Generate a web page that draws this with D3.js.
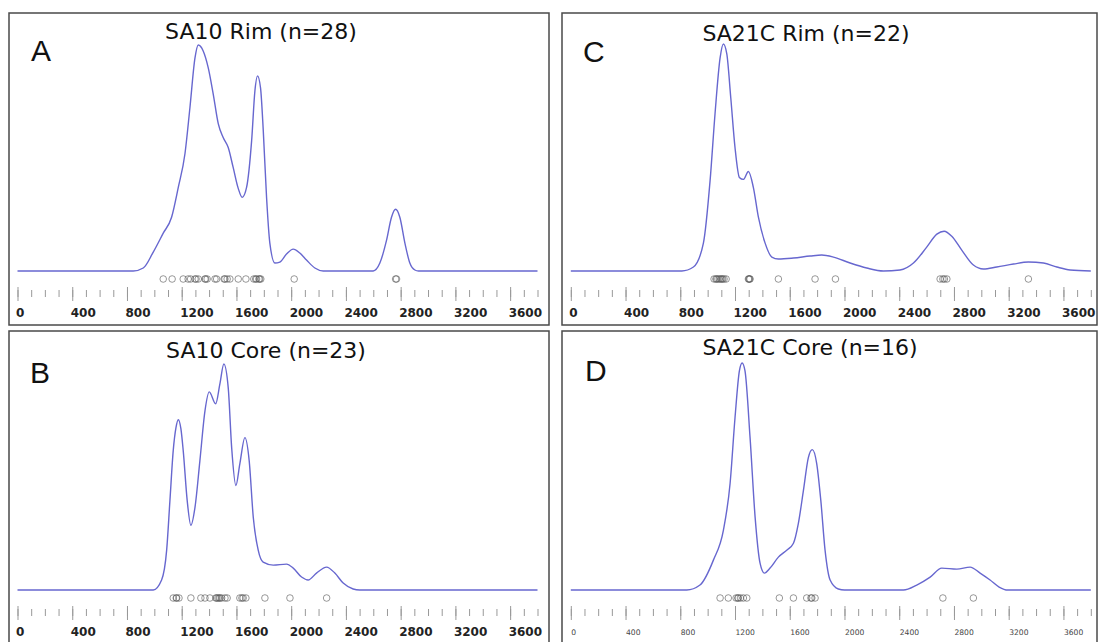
<!DOCTYPE html>
<html>
<head>
<meta charset="utf-8">
<script src="https://d3js.org/d3.v7.min.js"></script>
<style>
  body { margin: 0; background: #fff; }
  svg { display: block; }
</style>
</head>
<body>
<svg width="1098" height="642"></svg>
<script>
// ages (Ma) of the analysed grains, read from the open circles
var agesA = [1065, 1130, 1211, 1247, 1265, 1297, 1305, 1321, 1370, 1375, 1386, 1443, 1455, 1510,
             1516, 1532, 1552, 1613, 1669, 1727, 1740, 1747, 1764, 1770, 1778, 2022, 2763, 2770];
var agesB = [1138, 1160, 1163, 1180, 1267, 1340, 1370, 1406, 1450, 1455, 1465, 1474, 1480, 1492,
             1516, 1532, 1625, 1640, 1649, 1669, 1808, 1991, 2259];
var agesC = [1047, 1060, 1066, 1075, 1086, 1095, 1103, 1110, 1120, 1135, 1298, 1302, 1306, 1310,
             1517, 1785, 1934, 2699, 2719, 2730, 2748, 3344];
var agesD = [1091, 1151, 1208, 1220, 1225, 1240, 1261, 1286, 1524, 1627, 1724, 1755, 1761, 1785,
             2719, 2942];

// density curves [age, relative density]
var curveA = [[0,0],[846,0],[919,3],[992,19],[1065,38],[1126,54],[1175,84],[1224,118],[1260,164],
  [1297,214],[1321,227],[1357,221],[1394,204],[1430,178],[1467,148],[1503,134],[1540,124],[1576,104],
  [1613,83],[1642,74],[1674,84],[1711,131],[1735,181],[1754,196],[1776,184],[1796,141],[1820,74],
  [1844,28],[1881,8],[1917,9],[1966,17],[2015,22],[2063,18],[2112,11],[2173,3],[2234,0],[2599,0],
  [2648,8],[2697,31],[2733,54],[2763,62],[2794,54],[2831,28],[2867,8],[2904,1],[2930,0],[3800,0]];
var curveB = [[0,0],[992,0],[1053,10],[1090,40],[1114,90],[1138,140],[1158,163],[1175,171],[1194,162],
  [1211,140],[1240,90],[1267,65],[1297,83],[1333,130],[1370,180],[1401,199],[1448,187],[1479,207],
  [1508,227],[1540,203],[1565,143],[1596,105],[1625,127],[1662,153],[1693,130],[1723,73],[1759,40],
  [1795,28],[1869,25],[1966,26],[2015,22],[2076,13],[2124,10],[2185,17],[2259,23],[2319,17],
  [2380,7],[2453,1],[2500,0],[3800,0]];
var curveC = [[0,0],[811,0],[896,4],[969,28],[1018,91],[1054,158],[1091,214],[1115,228],[1140,218],
  [1169,174],[1200,124],[1232,94],[1261,92],[1298,100],[1334,84],[1371,54],[1420,28],[1469,14],
  [1517,12],[1627,13],[1749,15],[1834,16],[1919,14],[2041,8],[2163,3],[2284,0],[2406,1],[2504,8],
  [2601,24],[2675,37],[2728,40],[2784,35],[2857,21],[2942,6],[3015,2],[3113,4],[3235,7],[3344,9],
  [3454,8],[3552,4],[3649,1],[3800,0]];
var curveD = [[0,0],[847,0],[944,5],[1042,30],[1115,60],[1164,107],[1200,173],[1232,220],[1252,228],
  [1273,220],[1310,153],[1347,73],[1383,27],[1415,17],[1456,22],[1517,33],[1578,40],[1627,47],
  [1663,67],[1700,100],[1736,133],[1765,141],[1797,127],[1827,90],[1858,40],[1895,10],[1955,1],
  [2000,0],[2431,0],[2528,5],[2626,13],[2711,22],[2821,21],[2918,23],[2991,17],[3064,10],[3130,3],
  [3193,0],[3800,0]];

var letters = ["A", "B", "C", "D"];
var titles = ["SA10 Rim (n=28)", "SA10 Core (n=23)", "SA21C Rim (n=22)", "SA21C Core (n=16)"];
var tickLabels = [0, 400, 800, 1200, 1600, 2000, 2400, 2800, 3200, 3600];
var minorTicks = d3.range(0, 3801, 100);

// panel boxes and where things sit inside them
var panels = [
  {x: 9,   y: 13,  w: 540, h: 312, x0: 8.5, base: 258, title: [252, 26], letter: [22, 48], ages: agesA, curve: curveA, small: false},
  {x: 9,   y: 331, w: 540, h: 330, x0: 8.5, base: 259, title: [257, 27], letter: [21, 52], ages: agesB, curve: curveB, small: false},
  {x: 562, y: 13,  w: 535, h: 312, x0: 8.8, base: 258, title: [244, 28], letter: [21, 49], ages: agesC, curve: curveC, small: false},
  {x: 562, y: 331, w: 535, h: 330, x0: 8.8, base: 259, title: [248, 24], letter: [23, 50], ages: agesD, curve: curveD, small: true}
];

var svg = d3.select("svg");
svg.append("rect").attr("width", 1098).attr("height", 642).attr("fill", "#fff");

panels.forEach(function(p, i) {
  var g = svg.append("g").attr("transform", "translate(" + p.x + "," + p.y + ")");

  g.append("rect")
    .attr("width", p.w).attr("height", p.h)
    .attr("fill", "none").attr("stroke", "#4a4a4a").attr("stroke-width", 1.5);

  var x = d3.scaleLinear().domain([0, 3800]).range([p.x0, p.x0 + 520]);
  var y = d3.scaleLinear().domain([0, 228]).range([p.base, p.base - 227]);

  var line = d3.line()
    .x(function(d) { return x(d[0]); })
    .y(function(d) { return y(d[1]); })
    .curve(d3.curveMonotoneX);

  g.append("path")
    .datum(p.curve)
    .attr("d", line)
    .attr("fill", "none")
    .attr("stroke", "#6767cf")
    .attr("stroke-width", 1.4);

  g.selectAll("circle.age")
    .data(p.ages)
    .enter().append("circle")
    .attr("class", "age")
    .attr("cx", function(d) { return x(d); })
    .attr("cy", p.base + 8)
    .attr("r", 3.3)
    .attr("fill", "none")
    .attr("stroke", "#555")
    .attr("stroke-opacity", 0.6)
    .attr("stroke-width", 1);

  // minor ticks every 100
  var minor = g.append("g")
    .attr("transform", "translate(0," + (p.base + 19) + ")")
    .call(d3.axisBottom(x).tickValues(minorTicks).tickSize(7).tickFormat(""));
  minor.select(".domain").remove();
  minor.selectAll("line").attr("stroke", "#999");

  // major ticks every 400 with labels
  var major = g.append("g")
    .attr("transform", "translate(0," + (p.base + 16) + ")")
    .call(d3.axisBottom(x).tickValues(tickLabels).tickSize(14).tickFormat(d3.format("d")));
  major.select(".domain").remove();
  major.selectAll("line").attr("stroke", "#999");
  major.selectAll("text")
    .attr("text-anchor", "start")
    .attr("x", p.small ? 0 : -2)
    .attr("y", p.small ? 29 : 30)
    .attr("dy", 0)
    .attr("fill", p.small ? "#444" : "#222")
    .style("font-family", "DejaVu Sans")
    .style("font-weight", p.small ? "normal" : "bold")
    .style("font-size", p.small ? "7.6px" : "12px");

  g.append("text")
    .text(titles[i])
    .attr("x", p.title[0]).attr("y", p.title[1])
    .attr("text-anchor", "middle")
    .style("font-family", "DejaVu Sans")
    .style("font-size", "22px")
    .attr("fill", "#111");

  g.append("text")
    .text(letters[i])
    .attr("x", p.letter[0]).attr("y", p.letter[1])
    .style("font-family", "Liberation Sans")
    .style("font-size", "30px")
    .attr("fill", "#111");
});
</script>
</body>
</html>
